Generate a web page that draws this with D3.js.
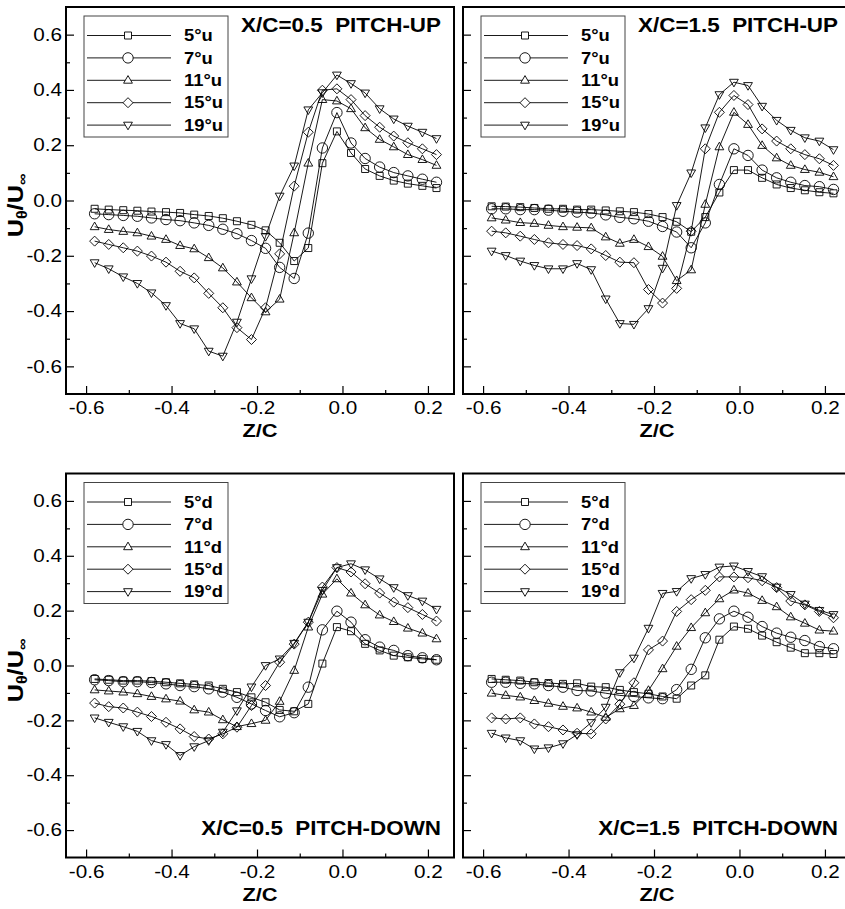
<!DOCTYPE html>
<html lang="en">
<head>
<meta charset="utf-8">
<title>U_theta profiles</title>
<script src="https://d3js.org/d3.v7.min.js"></script>
<style>
  body { margin: 0; background: #fff; }
  text { font-family: "Liberation Sans", Arial, sans-serif; fill: #000; }
</style>
</head>
<body>
<div id="main"></div>
<script>
// Z/C stations (same for every curve)
var zc = [-0.58, -0.547, -0.513, -0.48, -0.447, -0.413, -0.38, -0.347, -0.313, -0.28,
          -0.247, -0.213, -0.18, -0.147, -0.113, -0.08, -0.047, -0.013, 0.02, 0.053,
          0.087, 0.12, 0.153, 0.187, 0.22];

var namesUp = ["5°u", "7°u", "11°u", "15°u", "19°u"];
var namesDown = ["5°d", "7°d", "11°d", "15°d", "19°d"];

// X/C=0.5 pitch-up
var up05_5  = [-0.030,-0.033,-0.035,-0.037,-0.040,-0.042,-0.045,-0.051,-0.056,-0.064,-0.075,-0.088,-0.108,-0.153,-0.219,-0.172,0.135,0.250,0.172,0.114,0.089,0.072,0.061,0.053,0.045];
var up05_7  = [-0.048,-0.051,-0.054,-0.057,-0.063,-0.069,-0.073,-0.081,-0.090,-0.104,-0.120,-0.145,-0.173,-0.242,-0.282,-0.118,0.190,0.318,0.208,0.152,0.121,0.101,0.089,0.077,0.066];
var up05_11 = [-0.095,-0.105,-0.112,-0.117,-0.129,-0.141,-0.163,-0.175,-0.207,-0.244,-0.295,-0.352,-0.403,-0.357,-0.117,0.135,0.365,0.360,0.332,0.263,0.221,0.194,0.166,0.148,0.127];
var up05_15 = [-0.147,-0.159,-0.171,-0.183,-0.201,-0.223,-0.256,-0.280,-0.336,-0.388,-0.460,-0.503,-0.388,-0.193,0.052,0.247,0.399,0.404,0.365,0.307,0.265,0.233,0.209,0.187,0.166];
var up05_19 = [-0.225,-0.247,-0.276,-0.300,-0.334,-0.380,-0.445,-0.464,-0.545,-0.563,-0.440,-0.283,-0.130,0.016,0.125,0.328,0.390,0.454,0.423,0.389,0.332,0.295,0.269,0.247,0.224];

// X/C=1.5 pitch-up
var up15_5  = [-0.021,-0.022,-0.024,-0.027,-0.030,-0.030,-0.033,-0.033,-0.036,-0.039,-0.042,-0.049,-0.060,-0.077,-0.113,-0.060,0.029,0.110,0.110,0.082,0.058,0.045,0.037,0.030,0.026];
var up15_7  = [-0.030,-0.030,-0.033,-0.033,-0.035,-0.039,-0.042,-0.045,-0.052,-0.061,-0.066,-0.075,-0.094,-0.114,-0.171,-0.081,0.058,0.187,0.163,0.110,0.082,0.066,0.054,0.050,0.040];
var up15_11 = [-0.063,-0.071,-0.080,-0.083,-0.090,-0.095,-0.097,-0.099,-0.132,-0.155,-0.141,-0.167,-0.202,-0.290,-0.251,-0.014,0.194,0.319,0.275,0.199,0.154,0.127,0.112,0.102,0.086];
var up15_15 = [-0.111,-0.117,-0.129,-0.141,-0.153,-0.159,-0.163,-0.175,-0.199,-0.223,-0.225,-0.322,-0.371,-0.318,-0.111,0.187,0.319,0.380,0.347,0.259,0.215,0.187,0.166,0.151,0.127];
var up15_19 = [-0.183,-0.199,-0.219,-0.235,-0.247,-0.247,-0.228,-0.250,-0.356,-0.445,-0.448,-0.391,-0.245,-0.018,0.100,0.263,0.383,0.428,0.416,0.341,0.290,0.254,0.227,0.215,0.184];

// X/C=0.5 pitch-down
var dn05_5  = [-0.049,-0.052,-0.055,-0.055,-0.057,-0.061,-0.065,-0.069,-0.073,-0.085,-0.097,-0.116,-0.134,-0.162,-0.167,-0.140,0.007,0.140,0.125,0.079,0.055,0.036,0.030,0.024,0.021];
var dn05_7  = [-0.052,-0.055,-0.059,-0.059,-0.062,-0.067,-0.073,-0.077,-0.085,-0.097,-0.116,-0.140,-0.164,-0.187,-0.172,-0.079,0.130,0.198,0.158,0.094,0.067,0.055,0.036,0.028,0.021];
var dn05_11 = [-0.089,-0.093,-0.097,-0.103,-0.113,-0.122,-0.130,-0.162,-0.170,-0.198,-0.223,-0.212,-0.200,-0.131,-0.018,0.140,0.260,0.316,0.264,0.221,0.184,0.160,0.136,0.118,0.097];
var dn05_15 = [-0.137,-0.150,-0.155,-0.170,-0.186,-0.207,-0.231,-0.259,-0.268,-0.249,-0.225,-0.146,-0.073,0.012,0.078,0.158,0.286,0.357,0.341,0.298,0.264,0.231,0.211,0.186,0.162];
var dn05_19 = [-0.191,-0.207,-0.223,-0.240,-0.274,-0.288,-0.328,-0.296,-0.274,-0.243,-0.165,-0.078,0.000,0.024,0.081,0.158,0.274,0.357,0.371,0.349,0.316,0.284,0.255,0.235,0.205];

// X/C=1.5 pitch-down
var dn15_5  = [-0.049,-0.052,-0.055,-0.061,-0.064,-0.067,-0.065,-0.077,-0.079,-0.089,-0.097,-0.103,-0.113,-0.121,-0.073,-0.036,0.094,0.142,0.134,0.109,0.085,0.065,0.045,0.045,0.042];
var dn15_7  = [-0.061,-0.061,-0.065,-0.067,-0.073,-0.079,-0.091,-0.093,-0.101,-0.109,-0.113,-0.118,-0.121,-0.088,-0.014,0.101,0.170,0.198,0.176,0.142,0.118,0.103,0.091,0.069,0.061];
var dn15_11 = [-0.101,-0.109,-0.115,-0.128,-0.138,-0.149,-0.155,-0.170,-0.189,-0.158,-0.146,-0.091,-0.012,0.070,0.138,0.192,0.243,0.275,0.264,0.237,0.214,0.177,0.154,0.129,0.125];
var dn15_15 = [-0.191,-0.195,-0.191,-0.213,-0.223,-0.235,-0.247,-0.249,-0.195,-0.141,-0.063,0.057,0.089,0.197,0.240,0.274,0.323,0.323,0.320,0.309,0.284,0.235,0.221,0.197,0.174];
var dn15_19 = [-0.247,-0.264,-0.274,-0.304,-0.300,-0.285,-0.252,-0.208,-0.152,-0.026,0.027,0.136,0.263,0.270,0.317,0.332,0.359,0.363,0.343,0.324,0.286,0.259,0.224,0.201,0.186];

var xTicks = [-0.6, -0.4, -0.2, 0, 0.2];
var xMinor = [-0.5, -0.3, -0.1, 0.1];
var yTicks = [-0.6, -0.4, -0.2, 0, 0.2, 0.4, 0.6];
var yMinor = [-0.5, -0.3, -0.1, 0.1, 0.3, 0.5];

var width = 845, height = 909;
var SX = 1.15;   // the scanned lettering is wider than Arial

var svg = d3.select("#main").append("svg")
  .attr("width", width)
  .attr("height", height);

var colLeft = [66, 463];
var rowTop = [7, 473.5];
var rowH = [387, 384];
var panelW = 388;

var panels = [
  {col: 0, row: 0, title: "X/C=0.5  PITCH-UP",   names: namesUp,   series: [up05_5, up05_7, up05_11, up05_15, up05_19]},
  {col: 1, row: 0, title: "X/C=1.5  PITCH-UP",   names: namesUp,   series: [up15_5, up15_7, up15_11, up15_15, up15_19]},
  {col: 0, row: 1, title: "X/C=0.5  PITCH-DOWN", names: namesDown, series: [dn05_5, dn05_7, dn05_11, dn05_15, dn05_19]},
  {col: 1, row: 1, title: "X/C=1.5  PITCH-DOWN", names: namesDown, series: [dn15_5, dn15_7, dn15_11, dn15_15, dn15_19]}
];

// hollow markers, one per angle
function marker(i) {
  if (i == 0) return "M-3.5,-3.5H3.5V3.5H-3.5Z";
  if (i == 1) return "M5.2,0A5.2,5.2 0 1,1 -5.2,0A5.2,5.2 0 1,1 5.2,0Z";
  if (i == 2) return "M0,-4.7L4.4,2.9L-4.4,2.9Z";
  if (i == 3) return "M0,-5L5,0L0,5L-5,0Z";
  return "M0,4.7L4.4,-2.9L-4.4,-2.9Z";
}

// widen a text about its own x anchor
function stretch(sel) {
  sel.each(function() {
    var t = d3.select(this);
    var x = +t.attr("x") || 0;
    var old = t.attr("transform") || "";
    t.attr("transform", old + " translate(" + (x * (1 - SX)) + ",0) scale(" + SX + ",1)");
  });
}

function fmt(d) { return d.toFixed(1); }

panels.forEach(function(p) {
  var left = colLeft[p.col], top = rowTop[p.row], h = rowH[p.row];
  var x = d3.scaleLinear().domain([-0.647, 0.261]).range([left, left + panelW]);
  var y = d3.scaleLinear().domain([-0.7, 0.7]).range([top + h, top]);

  var g = svg.append("g");

  // minor ticks
  g.append("g").attr("transform", "translate(0," + (top + h) + ")")
    .call(d3.axisBottom(x).tickValues(xMinor).tickSize(-4).tickFormat(""))
    .call(function(a) { a.select(".domain").remove(); a.selectAll("line").attr("stroke-width", 1.2); });
  g.append("g").attr("transform", "translate(" + left + ",0)")
    .call(d3.axisLeft(y).tickValues(yMinor).tickSize(-4).tickFormat(""))
    .call(function(a) { a.select(".domain").remove(); a.selectAll("line").attr("stroke-width", 1.2); });

  // major ticks + labels
  var xa = g.append("g").attr("transform", "translate(0," + (top + h) + ")")
    .call(d3.axisBottom(x).tickValues(xTicks).tickSize(-8).tickPadding(7.5).tickFormat(fmt));
  xa.select(".domain").remove();
  xa.selectAll("line").attr("stroke-width", 1.2);
  xa.selectAll("text").attr("font-size", 18).attr("font-family", null);
  stretch(xa.selectAll("text"));

  var ya = g.append("g").attr("transform", "translate(" + left + ",0)")
    .call(d3.axisLeft(y).tickValues(yTicks).tickSize(-8).tickPadding(4)
      .tickFormat(p.col == 0 ? fmt : ""));
  ya.select(".domain").remove();
  ya.selectAll("line").attr("stroke-width", 1.2);
  ya.selectAll("text").attr("font-size", 18).attr("font-family", null);
  stretch(ya.selectAll("text"));

  // frame
  g.append("rect")
    .attr("x", left).attr("y", top)
    .attr("width", panelW).attr("height", h)
    .attr("fill", "none").attr("stroke", "#000").attr("stroke-width", 2);

  // curves
  var line = d3.line().x(function(d) { return x(d[0]); }).y(function(d) { return y(d[1]); });
  p.series.forEach(function(s, i) {
    var pts = d3.zip(zc, s);
    g.append("path").datum(pts)
      .attr("d", line)
      .attr("fill", "none").attr("stroke", "#000").attr("stroke-width", 0.9);
    g.selectAll(null).data(pts).enter().append("path")
      .attr("d", marker(i))
      .attr("transform", function(d) { return "translate(" + x(d[0]) + "," + y(d[1]) + ")"; })
      .attr("fill", "none").attr("stroke", "#000").attr("stroke-width", 0.9);
  });

  // legend
  var lx = left + 18, ly = top + 9;
  var lg = g.append("g");
  lg.append("rect").attr("x", lx).attr("y", ly).attr("width", 144).attr("height", 121)
    .attr("fill", "#fff").attr("stroke", "#444").attr("stroke-width", 1);
  p.names.forEach(function(n, i) {
    var ry = ly + 19.5 + i * 22.4;
    lg.append("line").attr("x1", lx + 3).attr("x2", lx + 87).attr("y1", ry).attr("y2", ry)
      .attr("stroke", "#000").attr("stroke-width", 0.9);
    lg.append("path").attr("d", marker(i)).attr("transform", "translate(" + (lx + 44) + "," + ry + ")")
      .attr("fill", "#fff").attr("stroke", "#000").attr("stroke-width", 0.9);
    lg.append("text").attr("x", lx + 100).attr("y", ry + 5.8)
      .attr("font-size", 16).attr("font-weight", "bold").text(n)
      .call(stretch);
  });

  // panel title
  var ty = p.row == 0 ? top + 25 : top + h - 22;
  g.append("text").attr("x", left + panelW - 13).attr("y", ty)
    .attr("text-anchor", "end").attr("font-size", 19.5).attr("font-weight", "bold")
    .style("white-space", "pre").text(p.title)
    .call(stretch);

  // x title
  g.append("text").attr("x", left + panelW / 2).attr("y", top + h + 43)
    .attr("text-anchor", "middle").attr("font-size", 19).attr("font-weight", "bold")
    .text("Z/C").call(stretch);

  // y title
  if (p.col == 0) {
    var yt = g.append("text")
      .attr("transform", "translate(23," + (top + h / 2 + 5) + ") rotate(-90)")
      .attr("text-anchor", "middle").attr("font-size", 22).attr("font-weight", "bold");
    yt.append("tspan").text("U");
    yt.append("tspan").attr("font-size", 14).attr("dy", 4).text("θ");
    yt.append("tspan").attr("dy", -4).text("/U");
    yt.append("tspan").attr("font-size", 14).attr("dy", 4).text("∞");
    stretch(yt);
  }
});
</script>
</body>
</html>
